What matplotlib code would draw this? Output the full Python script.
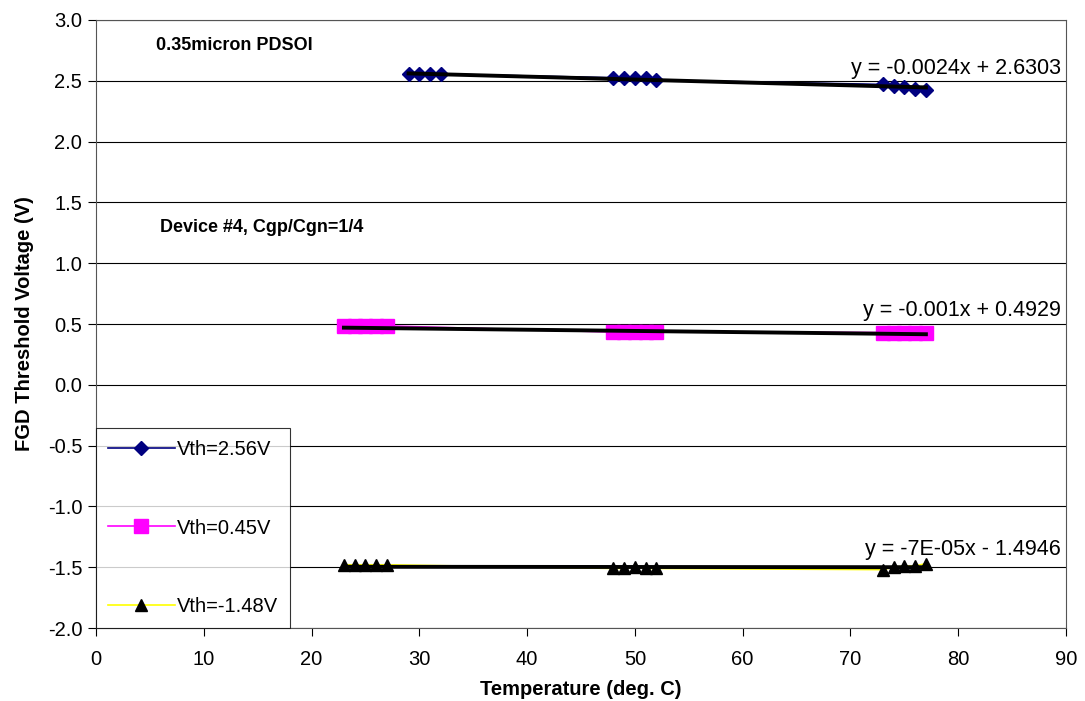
import numpy as np
import matplotlib
matplotlib.use('Agg')
import matplotlib.pyplot as plt
from matplotlib.ticker import MultipleLocator, FormatStrFormatter

plt.rcParams['font.family'] = ['Liberation Sans', 'DejaVu Sans']

# Vth = 2.56V series
x_hi = [29, 30, 31, 32, 48, 49, 50, 51, 52, 73, 74, 75, 76, 77]
y_hi = [2.555, 2.555, 2.555, 2.555, 2.525, 2.525, 2.525, 2.52, 2.505,
        2.47, 2.455, 2.445, 2.435, 2.425]
# Vth = 0.45V series
x_mid = [23, 24, 25, 26, 27, 48, 49, 50, 51, 52, 73, 74, 75, 76, 77]
y_mid = [0.484, 0.484, 0.484, 0.484, 0.484, 0.434, 0.434, 0.434, 0.434, 0.434,
         0.43, 0.43, 0.43, 0.43, 0.43]
# Vth = -1.48V series
x_lo = [23, 24, 25, 26, 27, 48, 49, 50, 51, 52, 73, 74, 75, 76, 77]
y_lo = [-1.48, -1.48, -1.48, -1.48, -1.48, -1.51, -1.51, -1.50, -1.51, -1.51,
        -1.52, -1.50, -1.49, -1.49, -1.47]

# linear fits shown on the chart (slope, intercept, x range)
fits = [(-0.0024, 2.6303, 29, 77, "y = -0.0024x + 2.6303"),
        (-0.001, 0.4929, 23, 77, "y = -0.001x + 0.4929"),
        (-7e-05, -1.4946, 23, 77, "y = -7E-05x - 1.4946")]

fig = plt.figure(figsize=(10.85, 7.01), dpi=100)
ax = fig.add_axes([0.0885, 0.1041, 0.894, 0.8674])

ax.plot(x_hi, y_hi, color='#000080', lw=1.2, marker='D', ms=7,
        mfc='#000080', mec='#000080', label='Vth=2.56V', zorder=3)
ax.plot(x_mid, y_mid, color='#FF00FF', lw=1.2, marker='s', ms=10,
        mfc='#FF00FF', mec='#FF00FF', label='Vth=0.45V', zorder=3)
ax.plot(x_lo, y_lo, color='#FFFF00', lw=1.2, marker='^', ms=9,
        mfc='black', mec='black', label='Vth=-1.48V', zorder=3)

for m, b, x0, x1, txt in fits:
    xs = np.array([x0, x1])
    ax.plot(xs, m * xs + b, color='black', lw=2.8, zorder=4)

ax.text(89.5, 2.515, fits[0][4], fontsize=15.5, ha='right', va='bottom')
ax.text(89.5, 0.525, fits[1][4], fontsize=15.5, ha='right', va='bottom')
ax.text(89.5, -1.44, fits[2][4], fontsize=15.5, ha='right', va='bottom')

ax.text(5.6, 2.75, "0.35micron PDSOI", fontsize=13, fontweight='bold')
ax.text(5.9, 1.26, "Device #4, Cgp/Cgn=1/4", fontsize=13, fontweight='bold')

ax.set_xlim(0, 90)
ax.set_ylim(-2, 3)
ax.xaxis.set_major_locator(MultipleLocator(10))
ax.yaxis.set_major_locator(MultipleLocator(0.5))
ax.yaxis.set_major_formatter(FormatStrFormatter('%.1f'))
ax.grid(axis='y', color='black', lw=0.8)
ax.set_axisbelow(True)
ax.tick_params(direction='out', labelsize=14.5, length=6, pad=4)
ax.tick_params(axis='x', pad=10)
for s in ax.spines.values():
    s.set_color('#555555')

ax.set_xlabel("Temperature (deg. C)", fontsize=14.5, fontweight='bold', labelpad=8)
ax.set_ylabel("FGD Threshold Voltage (V)", fontsize=14.5, fontweight='bold', labelpad=10)

leg = ax.legend(loc='lower left', bbox_to_anchor=(0, 0), fontsize=14.5,
                frameon=True, fancybox=False, borderpad=0.6, labelspacing=2.95,
                handlelength=3.3, handletextpad=0.1, borderaxespad=0)
leg.get_frame().set_edgecolor('black')
leg.get_frame().set_linewidth(0.8)

plt.savefig('out.png', dpi=100)
plt.close()
